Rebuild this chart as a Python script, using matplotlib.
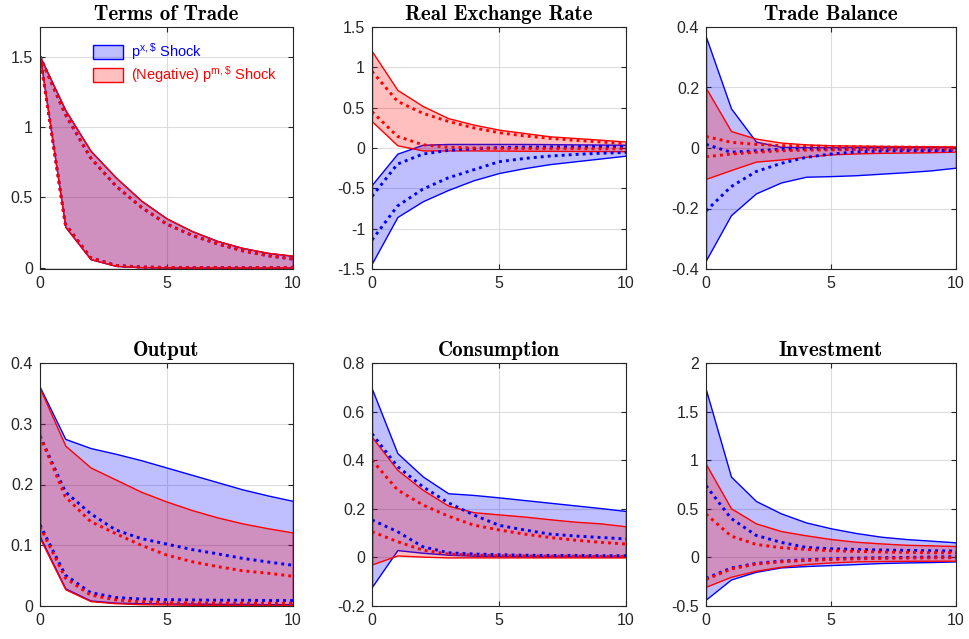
import numpy as np
import matplotlib
matplotlib.use("Agg")
import matplotlib.pyplot as plt
from matplotlib.patches import Patch

plt.rcParams['font.family'] = ['Liberation Sans', 'DejaVu Sans']
plt.rcParams['mathtext.default'] = 'regular'

horizon = np.arange(11)

titles = ["Terms of Trade", "Real Exchange Rate", "Trade Balance",
          "Output", "Consumption", "Investment"]

# Impulse responses: outer band (solid edges) and inner band (dotted)
# px = export-price shock (blue), pm = (negative) import-price shock (red)
tot_px_outer_hi = [1.50, 1.12, 0.83, 0.64, 0.476, 0.35, 0.26, 0.19, 0.14, 0.105, 0.083]
tot_px_outer_lo = [1.50, 0.29, 0.06, 0.012, 0.003, 0.001, 0, 0, 0, 0, 0]
tot_px_inner_hi = [1.50, 1.09, 0.78, 0.58, 0.43, 0.31, 0.23, 0.17, 0.12, 0.085, 0.06]
tot_px_inner_lo = [1.50, 0.31, 0.07, 0.015, 0.004, 0.001, 0, 0, 0, 0, 0]
tot_pm_outer_hi = [1.50, 1.12, 0.83, 0.64, 0.476, 0.35, 0.26, 0.19, 0.14, 0.105, 0.085]
tot_pm_outer_lo = [1.50, 0.29, 0.06, 0.012, 0.003, 0.001, 0, 0, 0, 0, 0]
tot_pm_inner_hi = [1.50, 1.09, 0.78, 0.58, 0.43, 0.31, 0.23, 0.17, 0.12, 0.085, 0.062]
tot_pm_inner_lo = [1.50, 0.31, 0.07, 0.015, 0.004, 0.001, 0, 0, 0, 0, 0]

rer_px_outer_hi = [-0.455, -0.07, 0.04, 0.05, 0.05, 0.05, 0.05, 0.048, 0.045, 0.043, 0.04]
rer_px_outer_lo = [-1.43, -0.855, -0.66, -0.52, -0.40, -0.31, -0.25, -0.20, -0.165, -0.13, -0.095]
rer_px_inner_hi = [-0.60, -0.20, -0.075, -0.03, -0.01, 0.005, 0.01, 0.013, 0.015, 0.018, 0.02]
rer_px_inner_lo = [-1.14, -0.72, -0.51, -0.37, -0.27, -0.17, -0.13, -0.10, -0.08, -0.065, -0.055]
rer_pm_outer_hi = [1.198, 0.72, 0.52, 0.37, 0.29, 0.227, 0.186, 0.145, 0.124, 0.103, 0.08]
rer_pm_outer_lo = [0.33, 0.033, -0.03, -0.03, -0.03, -0.032, -0.034, -0.035, -0.037, -0.038, -0.04]
rer_pm_inner_hi = [0.95, 0.58, 0.43, 0.33, 0.25, 0.19, 0.15, 0.12, 0.095, 0.075, 0.055]
rer_pm_inner_lo = [0.45, 0.145, 0.04, 0.01, 0.0, -0.005, -0.006, -0.007, -0.008, -0.009, -0.01]

tb_px_outer_hi = [0.367, 0.131, 0.021, 0.004, 0.003, 0.003, 0.003, 0.003, 0.003, 0.003, 0.003]
tb_px_outer_lo = [-0.371, -0.222, -0.150, -0.114, -0.095, -0.093, -0.09, -0.085, -0.08, -0.074, -0.065]
tb_px_inner_hi = [0.012, -0.014, -0.009, -0.004, -0.003, -0.003, -0.004, -0.005, -0.006, -0.006, -0.007]
tb_px_inner_lo = [-0.208, -0.128, -0.078, -0.051, -0.031, -0.02, -0.013, -0.010, -0.009, -0.009, -0.009]
tb_pm_outer_hi = [0.198, 0.056, 0.031, 0.018, 0.012, 0.009, 0.008, 0.007, 0.006, 0.006, 0.005]
tb_pm_outer_lo = [-0.102, -0.073, -0.045, -0.038, -0.029, -0.021, -0.018, -0.016, -0.015, -0.014, -0.012]
tb_pm_inner_hi = [0.038, 0.019, 0.012, 0.008, 0.007, 0.005, 0.004, 0.003, 0.003, 0.002, 0.002]
tb_pm_inner_lo = [-0.029, -0.02, -0.014, -0.009, -0.007, -0.006, -0.005, -0.005, -0.004, -0.004, -0.004]

out_px_outer_hi = [0.360, 0.275, 0.260, 0.2505, 0.240, 0.228, 0.216, 0.204, 0.192, 0.182, 0.173]
out_px_outer_lo = [0.114, 0.029, 0.009, 0.0055, 0.0045, 0.004, 0.004, 0.0035, 0.0035, 0.003, 0.003]
out_px_inner_hi = [0.280, 0.188, 0.152, 0.125, 0.111, 0.102, 0.093, 0.086, 0.0785, 0.0725, 0.067]
out_px_inner_lo = [0.1335, 0.051, 0.022, 0.014, 0.0115, 0.0105, 0.010, 0.0095, 0.0095, 0.009, 0.009]
out_pm_outer_hi = [0.358, 0.264, 0.228, 0.208, 0.188, 0.172, 0.158, 0.146, 0.136, 0.128, 0.121]
out_pm_outer_lo = [0.111, 0.0275, 0.008, 0.0045, 0.003, 0.0025, 0.002, 0.002, 0.0015, 0.0015, 0.0015]
out_pm_inner_hi = [0.280, 0.180, 0.139, 0.119, 0.100, 0.084, 0.073, 0.065, 0.058, 0.054, 0.049]
out_pm_inner_lo = [0.131, 0.046, 0.018, 0.010, 0.007, 0.0055, 0.005, 0.005, 0.0045, 0.0045, 0.0045]

con_px_outer_hi = [0.693, 0.429, 0.333, 0.264, 0.257, 0.247, 0.236, 0.225, 0.214, 0.203, 0.191]
con_px_outer_lo = [-0.121, 0.030, 0.019, 0.011, 0.007, 0.005, 0.004, 0.004, 0.003, 0.003, 0.003]
con_px_inner_hi = [0.509, 0.374, 0.291, 0.225, 0.175, 0.132, 0.113, 0.096, 0.088, 0.082, 0.076]
con_px_inner_lo = [0.154, 0.106, 0.044, 0.019, 0.014, 0.011, 0.009, 0.008, 0.008, 0.007, 0.007]
con_pm_outer_hi = [0.495, 0.360, 0.278, 0.213, 0.186, 0.177, 0.168, 0.157, 0.147, 0.140, 0.128]
con_pm_outer_lo = [-0.029, 0.008, 0.003, 0.0, 0.0, 0.0, 0.0, 0.0, 0.0, 0.0, 0.0]
con_pm_inner_hi = [0.400, 0.278, 0.216, 0.170, 0.133, 0.113, 0.096, 0.082, 0.071, 0.062, 0.055]
con_pm_inner_lo = [0.106, 0.065, 0.030, 0.014, 0.0096, 0.007, 0.006, 0.005, 0.005, 0.004, 0.004]

inv_px_outer_hi = [1.724, 0.831, 0.580, 0.453, 0.360, 0.299, 0.251, 0.213, 0.189, 0.172, 0.155]
inv_px_outer_lo = [-0.433, -0.227, -0.148, -0.103, -0.089, -0.079, -0.069, -0.058, -0.052, -0.048, -0.041]
inv_px_inner_hi = [0.738, 0.402, 0.227, 0.155, 0.103, 0.089, 0.082, 0.076, 0.072, 0.069, 0.065]
inv_px_inner_lo = [-0.216, -0.110, -0.062, -0.038, -0.024, -0.014, -0.007, -0.003, 0.0, 0.004, 0.007]
inv_pm_outer_hi = [0.958, 0.505, 0.350, 0.271, 0.227, 0.189, 0.161, 0.144, 0.130, 0.124, 0.117]
inv_pm_outer_lo = [-0.302, -0.199, -0.137, -0.096, -0.069, -0.052, -0.041, -0.038, -0.035, -0.034, -0.034]
inv_pm_inner_hi = [0.446, 0.220, 0.134, 0.100, 0.082, 0.069, 0.062, 0.055, 0.052, 0.048, 0.048]
inv_pm_inner_lo = [-0.227, -0.120, -0.069, -0.045, -0.031, -0.021, -0.015, -0.010, -0.007, -0.005, -0.003]

panels = [
    (tot_px_outer_lo, tot_px_outer_hi, tot_px_inner_lo, tot_px_inner_hi,
     tot_pm_outer_lo, tot_pm_outer_hi, tot_pm_inner_lo, tot_pm_inner_hi),
    (rer_px_outer_lo, rer_px_outer_hi, rer_px_inner_lo, rer_px_inner_hi,
     rer_pm_outer_lo, rer_pm_outer_hi, rer_pm_inner_lo, rer_pm_inner_hi),
    (tb_px_outer_lo, tb_px_outer_hi, tb_px_inner_lo, tb_px_inner_hi,
     tb_pm_outer_lo, tb_pm_outer_hi, tb_pm_inner_lo, tb_pm_inner_hi),
    (out_px_outer_lo, out_px_outer_hi, out_px_inner_lo, out_px_inner_hi,
     out_pm_outer_lo, out_pm_outer_hi, out_pm_inner_lo, out_pm_inner_hi),
    (con_px_outer_lo, con_px_outer_hi, con_px_inner_lo, con_px_inner_hi,
     con_pm_outer_lo, con_pm_outer_hi, con_pm_inner_lo, con_pm_inner_hi),
    (inv_px_outer_lo, inv_px_outer_hi, inv_px_inner_lo, inv_px_inner_hi,
     inv_pm_outer_lo, inv_pm_outer_hi, inv_pm_inner_lo, inv_pm_inner_hi),
]

ylims = [(-0.01, 1.71), (-1.5, 1.5), (-0.4, 0.4), (0, 0.4), (-0.2, 0.8), (-0.5, 2)]
yticks = [[0, 0.5, 1, 1.5], [-1.5, -1, -0.5, 0, 0.5, 1, 1.5],
          [-0.4, -0.2, 0, 0.2, 0.4], [0, 0.1, 0.2, 0.3, 0.4],
          [-0.2, 0, 0.2, 0.4, 0.6, 0.8], [-0.5, 0, 0.5, 1, 1.5, 2]]
ytick_labels = [["0", "0.5", "1", "1.5"], ["-1.5", "-1", "-0.5", "0", "0.5", "1", "1.5"],
                ["-0.4", "-0.2", "0", "0.2", "0.4"], ["0", "0.1", "0.2", "0.3", "0.4"],
                ["-0.2", "0", "0.2", "0.4", "0.6", "0.8"], ["-0.5", "0", "0.5", "1", "1.5", "2"]]

W, H = 970, 639
fig = plt.figure(figsize=(W / 100, H / 100), dpi=100)

col_left = [40, 372, 706]
col_width = [253, 254, 250]
row_top = [27, 363]
row_height = [242, 243]

axis_color = '#262626'
blue = (0, 0, 1)
red = (1, 0, 0)
fill_alpha = 0.25

for i, (title, data) in enumerate(zip(titles, panels)):
    r, c = divmod(i, 3)
    left = col_left[c] / W
    bottom = 1 - (row_top[r] + row_height[r]) / H
    ax = fig.add_axes([left, bottom, col_width[c] / W, row_height[r] / H])
    (bo_lo, bo_hi, bi_lo, bi_hi, ro_lo, ro_hi, ri_lo, ri_hi) = data

    ax.fill_between(horizon, bo_lo, bo_hi, facecolor=(0, 0, 1, fill_alpha),
                    edgecolor=blue, linewidth=1.0, zorder=2)
    ax.fill_between(horizon, ro_lo, ro_hi, facecolor=(1, 0, 0, fill_alpha),
                    edgecolor=red, linewidth=1.0, zorder=3)
    dots = (0, (1, 1.4))
    for series in (bi_lo, bi_hi):
        ax.plot(horizon, series, color=blue, linewidth=2.1, linestyle=dots, zorder=4)
    for series in (ri_lo, ri_hi):
        ax.plot(horizon, series, color=red, linewidth=2.1, linestyle=dots, zorder=5)

    ax.set_xlim(0, 10)
    ax.set_ylim(*ylims[i])
    ax.set_xticks([0, 5, 10])
    ax.set_xticklabels(["0", "5", "10"])
    ax.set_yticks(yticks[i])
    ax.set_yticklabels(ytick_labels[i])
    ax.grid(True, color='#dcdcdc', linewidth=0.8, zorder=0)
    ax.set_axisbelow(True)
    ax.tick_params(direction='in', length=3.5, width=0.8, colors=axis_color,
                   labelsize=11.5, top=True, right=True, pad=5)
    for sp in ax.spines.values():
        sp.set_color(axis_color)
        sp.set_linewidth(0.8)
        sp.set_zorder(6)
    ax.set_title(title, fontfamily=['cmb10', 'DejaVu Serif'],
                 fontsize=15, pad=5, color='black')

    if i == 0:
        handles = [Patch(facecolor=(0, 0, 1, fill_alpha), edgecolor=blue, linewidth=1.0),
                   Patch(facecolor=(1, 0, 0, fill_alpha), edgecolor=red, linewidth=1.0)]
        labels = [r"$p^{x,\$}$ Shock", r"(Negative) $p^{m,\$}$ Shock"]
        leg = ax.legend(handles, labels, loc='upper left', bbox_to_anchor=(0.185, 0.965),
                        frameon=False, fontsize=10.5, handlelength=2.1, handleheight=1.1,
                        handletextpad=0.5, labelspacing=0.15, borderaxespad=0)
        for txt, col in zip(leg.get_texts(), (blue, red)):
            txt.set_color(col)

fig.savefig("out.png", dpi=100)
